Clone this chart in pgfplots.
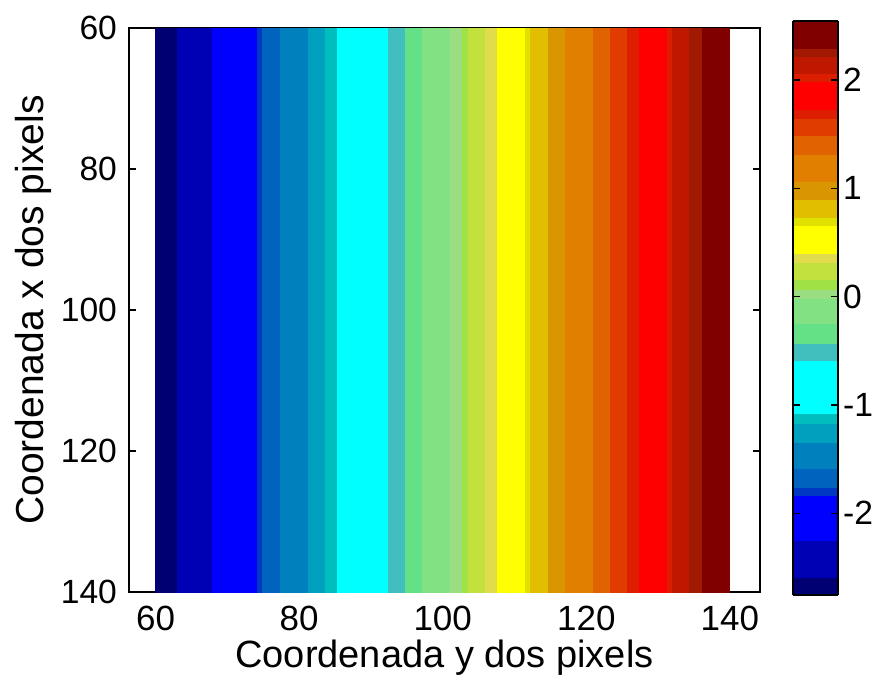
\documentclass[border=0pt]{standalone}
\usepackage{fontspec}
\setmainfont{Liberation Sans}
\setsansfont{Liberation Sans}
\usepackage{pgfplots}
\usepackage{pgfplotstable}
\pgfplotsset{compat=1.18}

\pgfplotsset{colormap={mcontour}{
rgb255(0pt)=(0,0,115);
rgb255(17.7pt)=(0,0,180);
rgb255(54.3pt)=(0,0,255);
rgb255(99.3pt)=(0,55,195);
rgb255(107.7pt)=(0,100,190);
rgb255(126.7pt)=(0,128,188);
rgb255(152.7pt)=(0,160,190);
rgb255(171.7pt)=(0,190,190);
rgb255(181pt)=(0,255,255);
rgb255(234.3pt)=(65,190,190);
rgb255(251.7pt)=(100,225,135);
rgb255(271pt)=(130,225,130);
rgb255(296.7pt)=(155,222,130);
rgb255(305.7pt)=(160,225,70);
rgb255(315.7pt)=(195,225,60);
rgb255(332.7pt)=(225,220,75);
rgb255(341.7pt)=(255,255,0);
rgb255(369pt)=(225,225,0);
rgb255(377.7pt)=(225,190,0);
rgb255(395pt)=(218,150,0);
rgb255(413.3pt)=(225,128,0);
rgb255(440pt)=(225,98,0);
rgb255(459pt)=(225,60,0);
rgb255(476.7pt)=(222,30,0);
rgb255(485pt)=(255,0,0);
rgb255(513.3pt)=(220,30,0);
rgb255(521.7pt)=(190,25,0);
rgb255(538.3pt)=(160,25,0);
rgb255(546.7pt)=(128,0,0);
rgb255(574pt)=(128,0,0)}}

\pgfplotstableread{
x y c
60 60 -2.674
63.08 60 -2.423
67.92 60 -2.046
74.21 60 -1.800
74.94 60 -1.673
77.38 60 -1.465
81.30 60 -1.258
83.68 60 -1.127
85.36 60 -0.838
92.39 60 -0.512
94.77 60 -0.342
97.20 60 -0.134
101.06 60 0.026
102.80 60 0.114
103.54 60 0.238
105.94 60 0.358
107.59 60 0.526
111.48 60 0.692
112.24 60 0.812
114.66 60 0.976
117.10 60 1.184
120.98 60 1.395
123.33 60 1.565
125.78 60 1.685
127.43 60 1.854
131.33 60 2.023
132.03 60 2.139
134.42 60 2.254
136.13 60 2.419
140 60 2.419
60 140 -2.674
63.08 140 -2.423
67.92 140 -2.046
74.21 140 -1.800
74.94 140 -1.673
77.38 140 -1.465
81.30 140 -1.258
83.68 140 -1.127
85.36 140 -0.838
92.39 140 -0.512
94.77 140 -0.342
97.20 140 -0.134
101.06 140 0.026
102.80 140 0.114
103.54 140 0.238
105.94 140 0.358
107.59 140 0.526
111.48 140 0.692
112.24 140 0.812
114.66 140 0.976
117.10 140 1.184
120.98 140 1.395
123.33 140 1.565
125.78 140 1.685
127.43 140 1.854
131.33 140 2.023
132.03 140 2.139
134.42 140 2.254
136.13 140 2.419
140 140 2.419
}\fielddata

\begin{document}
\begin{tikzpicture}
\begin{axis}[
  name=main,
  width=315.5pt, height=282pt, scale only axis,
  xmin=56.3, xmax=144.2, ymin=60, ymax=140, y dir=reverse,
  xtick={60,80,...,140}, ytick={60,80,...,140},
  tick align=inside, major tick length=3.5pt,
  tick style={black, line width=0.6pt},
  axis line style={line width=0.7pt},
  /pgf/number format/assume math mode=true,
  xticklabel style={font=\fontsize{17.5}{20}\selectfont, yshift=-3.5pt},
  yticklabel style={font=\fontsize{16.8}{19}\selectfont, xshift=-2.5pt},
  xlabel={Coordenada y dos pixels},
  ylabel={Coordenada x dos pixels},
  every axis x label/.style={at={(axis description cs:0.5,-0.117)}, anchor=center, font=\fontsize{19}{22}\selectfont},
  every axis y label/.style={at={(axis description cs:-0.152,0.5)}, rotate=90, anchor=center, font=\fontsize{19.5}{22}\selectfont},
  colormap name=mcontour,
  colormap access=piecewise constant,
  point meta min=-2.755, point meta max=2.545,
  colorbar,
  colorbar style={
    width=22.5pt, height=287pt,
    at={(parent axis.north east)}, anchor=north west,
    xshift=8pt, yshift=3.5pt,
    ytick={-2,-1,0,1,2},
    ytick pos=both, yticklabel pos=right,
    tick align=inside, major tick length=3.5pt,
    tick style={black, line width=0.6pt},
    axis line style={line width=0.7pt},
    /pgf/number format/assume math mode=true,
    yticklabel style={font=\fontsize{16.8}{19}\selectfont, xshift=-1pt},
  },
]
\addplot[surf, shader=flat corner, mesh/rows=2, mesh/cols=30, point meta=explicit]
  table[x=x, y=y, meta=c] {\fielddata};
\end{axis}
\pgfresetboundingbox
\path[use as bounding box] (main.south west) ++(-64.5pt,-45pt) rectangle ++(439.5pt,341pt);
\end{tikzpicture}
\end{document}
